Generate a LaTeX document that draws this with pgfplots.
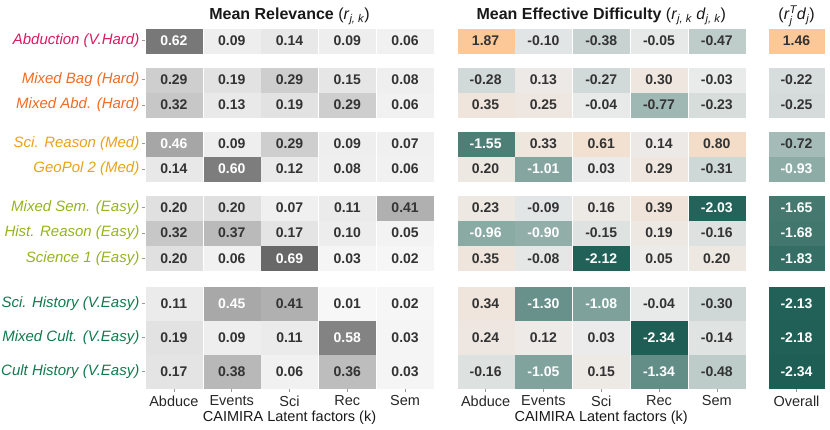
\documentclass[border=0pt]{standalone}
\usepackage{pgfplots}
\pgfplotsset{compat=1.18}
\usepackage{pgfplotstable}
\usepackage{amsmath}
\usepackage{fontspec}
\setmainfont{Liberation Sans}

\definecolor{vhard}{HTML}{D81B60}
\definecolor{hard}{HTML}{F26B21}
\definecolor{med}{HTML}{E8A21A}
\definecolor{easy}{HTML}{95B41C}
\definecolor{veasy}{HTML}{12794E}
\definecolor{txt}{HTML}{333333}

% y = row centre (from bottom), 1px = 1pt
\pgfplotstableread{
y     c1    c2    c3    c4    c5
389.3 0.62  0.09  0.14  0.09  0.06
350.3 0.29  0.19  0.29  0.15  0.08
324.9 0.32  0.13  0.19  0.29  0.06
286.3 0.46  0.09  0.29  0.09  0.07
260.9 0.14  0.60  0.12  0.08  0.06
222.3 0.20  0.20  0.07  0.11  0.41
196.9 0.32  0.37  0.17  0.10  0.05
171.5 0.20  0.06  0.69  0.03  0.02
}\relA
\pgfplotstableread{
y     c1    c2    c3    c4    c5
126.8 0.11  0.45  0.41  0.01  0.02
92.5  0.19  0.09  0.11  0.58  0.03
58.2  0.17  0.38  0.06  0.36  0.03
}\relB
\pgfplotstableread{
y     c1    c2    c3    c4    c5
389.3 1.87  -0.10 -0.38 -0.05 -0.47
350.3 -0.28 0.13  -0.27 0.30  -0.03
324.9 0.35  0.25  -0.04 -0.77 -0.23
286.3 -1.55 0.33  0.61  0.14  0.80
260.9 0.20  -1.01 0.03  0.29  -0.31
222.3 0.23  -0.09 0.16  0.39  -2.03
196.9 -0.96 -0.90 -0.15 0.19  -0.16
171.5 0.35  -0.08 -2.12 0.05  0.20
}\difA
\pgfplotstableread{
y     c1    c2    c3    c4    c5
126.8 0.34  -1.30 -1.08 -0.04 -0.30
92.5  0.24  0.12  0.03  -2.34 -0.14
58.2  -0.16 -1.05 0.15  -1.34 -0.48
}\difB
\pgfplotstableread{
y     c1
389.3 1.46
350.3 -0.22
324.9 -0.25
286.3 -0.72
260.9 -0.93
222.3 -1.65
196.9 -1.68
171.5 -1.83
}\ovA
\pgfplotstableread{
y     c1
126.8 -2.13
92.5  -2.18
58.2  -2.34
}\ovB

\pgfplotsset{
  heat/.style={
    y=1pt, ymin=41, ymax=402, xmin=0.5,
    clip=false, axis line style={draw=none},
    xtick pos=left, ytick pos=left, tick align=outside,
    major tick length=3pt, tick style={black!40, line width=0.6pt},
    xticklabel style={font=\fontsize{14.5}{16}\selectfont, text=black!85},
    xlabel style={font=\fontsize{14.5}{16}\selectfont, text=black!90,
      at={(axis description cs:0.5,0)}, anchor=base, yshift=-32.7pt},
    title style={font=\bfseries\fontsize{16}{18}\selectfont, text=black!90,
      at={(0.5,1)}, anchor=base, yshift=2pt},
    point meta=explicit,
  },
  % #1 = half height of a cell, #2 = width/height
  cells/.style 2 args={scatter, only marks, mark=square*, mark size=#1,
    mark options={xscale=#2, line width=0.1pt},
    scatter/use mapped color={draw=mapped color, fill=mapped color}},
  % #1 = text colour switch
  labels/.style={only marks, mark=none,
    nodes near coords={#1\pgfmathprintnumber[fixed,fixed zerofill,precision=2,assume math mode=true]{\pgfplotspointmeta}},
    every node near coord/.append style={anchor=center, font=\bfseries\fontsize{14}{16}\selectfont, text=txt}},
}
\newcommand{\relwhite}{\ifdim\pgfplotspointmetatransformed pt>640pt\color{white}\fi}
\newcommand{\difwhite}{\ifdim\pgfplotspointmetatransformed pt<350pt\color{white}\fi}
\newcommand{\ovwhite}{\ifdim\pgfplotspointmetatransformed pt<400pt\color{white}\fi}

\begin{document}
\begin{tikzpicture}
\useasboundingbox (0,0) rectangle (830pt,430pt);

% Mean relevance
\begin{axis}[heat, at={(145pt,41pt)}, anchor=south west,
    x=57.8pt, xmax=5.5,
    xtick={1,...,5}, xticklabels={Abduce,Events,Sci,Rec,Sem},
    xlabel={CAIMIRA Latent factors (k)},
    title={Mean Relevance {\mdseries(\textit{r}$_{\text{\itshape j, k}}$)}},
    ytick={389.3,350.3,324.9,286.3,260.9,222.3,196.9,171.5,126.8,92.5,58.2},
    yticklabels={
      \textcolor{vhard}{Abduction (V.Hard)},
      \textcolor{hard}{Mixed Bag (Hard)},
      \textcolor{hard}{Mixed Abd. (Hard)},
      \textcolor{med}{Sci. Reason (Med)},
      \textcolor{med}{GeoPol 2 (Med)},
      \textcolor{easy}{Mixed Sem. (Easy)},
      \textcolor{easy}{Hist. Reason (Easy)},
      \textcolor{easy}{Science 1 (Easy)},
      \textcolor{veasy}{Sci. History (V.Easy)},
      \textcolor{veasy}{Mixed Cult. (V.Easy)},
      \textcolor{veasy}{Cult History (V.Easy)}},
    yticklabel style={font=\itshape\fontsize{15}{17}\selectfont, anchor=east, inner sep=0pt, xshift=-2.5pt},
    colormap={greys}{gray(0pt)=(0.975); gray(20pt)=(0.88); gray(30pt)=(0.80);
      gray(41pt)=(0.69); gray(46pt)=(0.65); gray(60pt)=(0.49); gray(70pt)=(0.40)},
    point meta min=0, point meta max=0.70,
  ]
  \pgfplotsinvokeforeach{1,...,5}{
    \addplot[cells={12pt}{2.3333}] table[x expr=#1, y=y, meta=c#1] {\relA};
    \addplot[cells={16.5pt}{1.697}] table[x expr=#1, y=y, meta=c#1] {\relB};
    \addplot[labels=\relwhite] table[x expr=#1, y=y, meta=c#1] {\relA};
    \addplot[labels=\relwhite] table[x expr=#1, y=y, meta=c#1] {\relB};
  }
\end{axis}

% Mean effective difficulty
\begin{axis}[heat, at={(456.7pt,41pt)}, anchor=south west,
    x=57.8pt, xmax=5.5,
    xtick={1,...,5}, xticklabels={Abduce,Events,Sci,Rec,Sem},
    xlabel={CAIMIRA Latent factors (k)},
    title={Mean Effective Difficulty {\mdseries(\textit{r}$_{\text{\itshape j, k}}$ \textit{d}$_{\text{\itshape j, k}}$)}},
    ytick=\empty,
    colormap={diff}{rgb255(0pt)=(31,94,84); rgb255(34pt)=(36,99,89); rgb255(79pt)=(78,127,119);
      rgb255(134pt)=(134,167,161); rgb255(184pt)=(188,203,200); rgb255(234pt)=(236,236,236);
      rgb255(421pt)=(253,200,152)},
    point meta min=-2.34, point meta max=1.87,
  ]
  \pgfplotsinvokeforeach{1,...,5}{
    \addplot[cells={12pt}{2.3333}] table[x expr=#1, y=y, meta=c#1] {\difA};
    \addplot[cells={16.5pt}{1.697}] table[x expr=#1, y=y, meta=c#1] {\difB};
    \addplot[labels=\difwhite] table[x expr=#1, y=y, meta=c#1] {\difA};
    \addplot[labels=\difwhite] table[x expr=#1, y=y, meta=c#1] {\difB};
  }
\end{axis}

% Overall
\begin{axis}[heat, at={(768pt,41pt)}, anchor=south west,
    x=57pt, xmax=1.5,
    xtick={1}, xticklabels={Overall},
    title={{\mdseries(\textit{r}$_{\text{\itshape j}}^{\text{\itshape T}}$\textit{d}$_{\text{\itshape j}}$)}},
    ytick=\empty,
    colormap={ovr}{rgb255(0pt)=(31,94,84); rgb255(34pt)=(36,99,89); rgb255(79pt)=(78,127,119);
      rgb255(134pt)=(134,167,161); rgb255(184pt)=(188,203,200); rgb255(234pt)=(236,236,236);
      rgb255(380pt)=(253,200,152)},
    point meta min=-2.34, point meta max=1.46,
  ]
  \addplot[cells={12pt}{2.3083}] table[x expr=1, y=y, meta=c1] {\ovA};
  \addplot[cells={16.5pt}{1.6788}] table[x expr=1, y=y, meta=c1] {\ovB};
  \addplot[labels=\ovwhite] table[x expr=1, y=y, meta=c1] {\ovA};
  \addplot[labels=\ovwhite] table[x expr=1, y=y, meta=c1] {\ovB};
\end{axis}
\end{tikzpicture}
\end{document}
